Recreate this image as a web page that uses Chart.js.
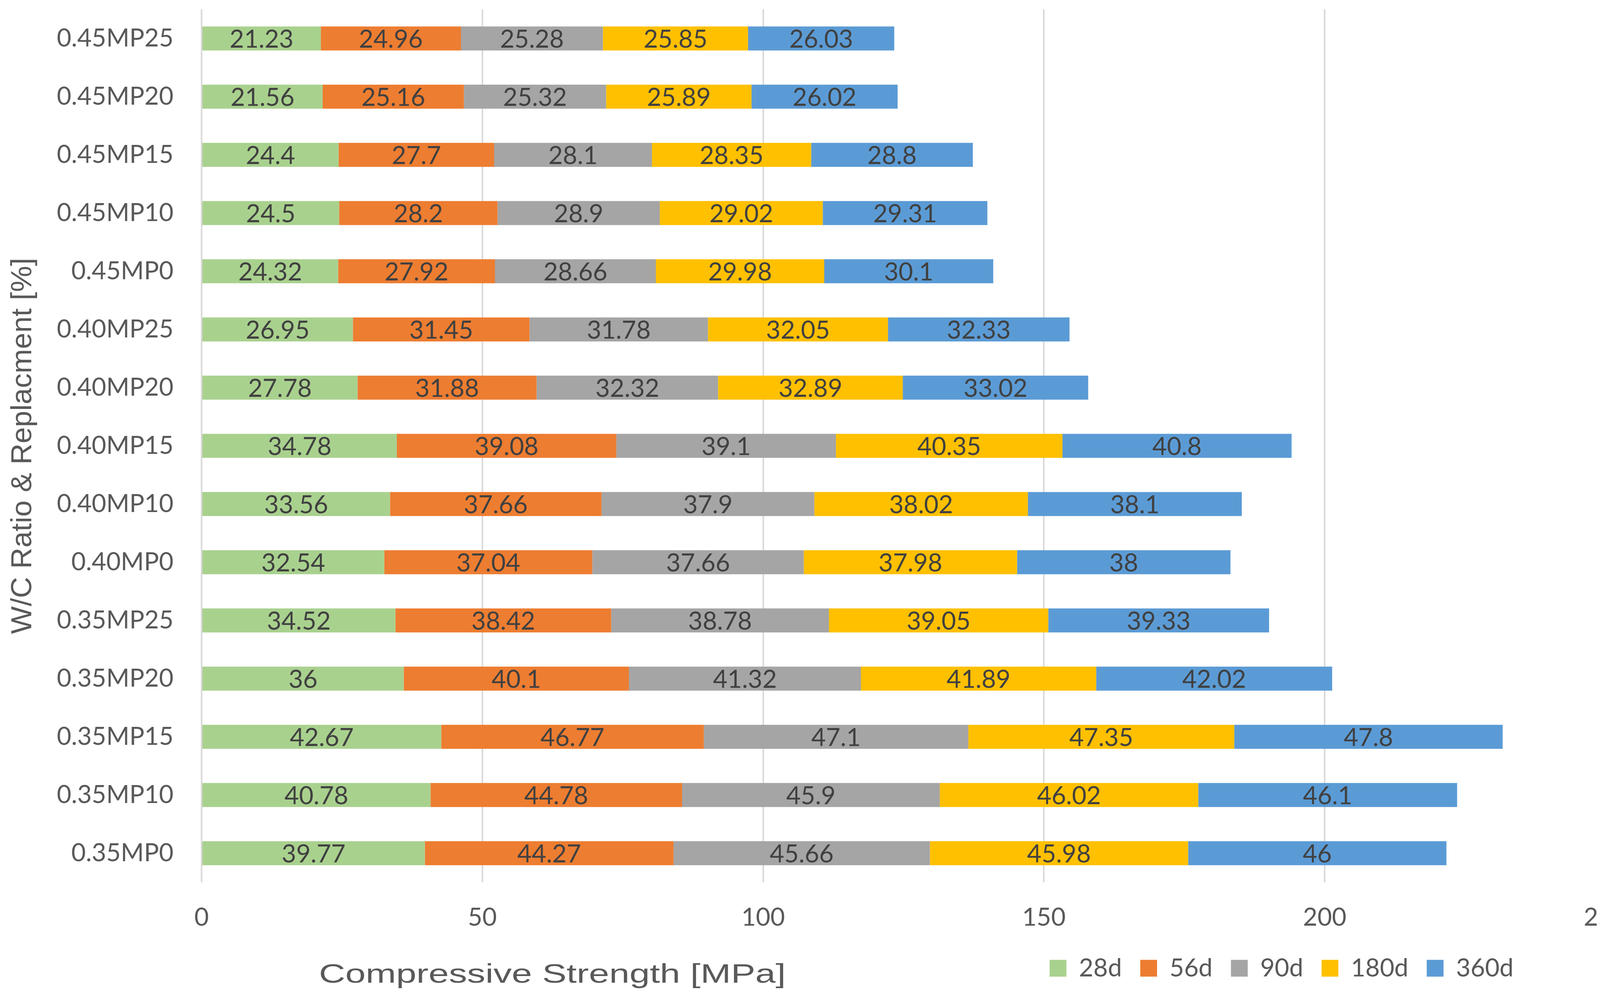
<!DOCTYPE html>
<html>
<head>
<meta charset="utf-8">
<script src="https://cdn.jsdelivr.net/npm/chart.js@4.4.0/dist/chart.umd.min.js"></script>
<style>
  html, body { margin: 0; padding: 0; background: #ffffff; overflow: hidden; }
  #wrap { width: 4193px; height: 2568px; }
  canvas { display: block; }
</style>
</head>
<body>
<div id="wrap"><canvas id="barChart" width="4193" height="2568"></canvas></div>
<script>
// Categorieen, van boven naar beneden zoals in de figuur
const categories = [
  '0.45MP25', '0.45MP20', '0.45MP15', '0.45MP10', '0.45MP0',
  '0.40MP25', '0.40MP20', '0.40MP15', '0.40MP10', '0.40MP0',
  '0.35MP25', '0.35MP20', '0.35MP15', '0.35MP10', '0.35MP0'
];

// Druksterkte per leeftijd (MPa)
const d28  = [21.23, 21.56, 24.4, 24.5, 24.32, 26.95, 27.78, 34.78, 33.56, 32.54, 34.52, 36, 42.67, 40.78, 39.77];
const d56  = [24.96, 25.16, 27.7, 28.2, 27.92, 31.45, 31.88, 39.08, 37.66, 37.04, 38.42, 40.1, 46.77, 44.78, 44.27];
const d90  = [25.28, 25.32, 28.1, 28.9, 28.66, 31.78, 32.32, 39.1, 37.9, 37.66, 38.78, 41.32, 47.1, 45.9, 45.66];
const d180 = [25.85, 25.89, 28.35, 29.02, 29.98, 32.05, 32.89, 40.35, 38.02, 37.98, 39.05, 41.89, 47.35, 46.02, 45.98];
const d360 = [26.03, 26.02, 28.8, 29.31, 30.1, 32.33, 33.02, 40.8, 38.1, 38, 39.33, 42.02, 47.8, 46.1, 46];

const seriesNames = ['28d', '56d', '90d', '180d', '360d'];
const xTicks = [0, 50, 100, 150, 200, 250];

// Kleuren per serie
const seriesColors = ['#A9D18E', '#ED7D31', '#A5A5A5', '#FFC000', '#5B9BD5'];

const labelFont = 'Lato';
const textGray = '#595959';

// Waarden midden in elke balk schrijven
const barLabels = {
  id: 'barLabels',
  afterDatasetsDraw(chart) {
    const ctx = chart.ctx;
    ctx.save();
    ctx.font = '64px ' + labelFont;
    ctx.fillStyle = '#404040';
    ctx.textAlign = 'center';
    ctx.textBaseline = 'middle';
    chart.data.datasets.forEach((ds, i) => {
      chart.getDatasetMeta(i).data.forEach((bar, j) => {
        const p = bar.getCenterPoint();
        ctx.fillText(String(ds.data[j]), p.x, p.y + 3);
      });
    });
    ctx.restore();
  }
};

// Legenda rechts onderaan, naast de astitel
const legendShift = {
  id: 'legendShift',
  afterLayout(chart) {
    const lg = chart.legend;
    lg.left = 2687 - lg.options.labels.padding;
    lg.right = chart.width;
  }
};

// Titel van de x-as (breed uitgerekt zoals in Excel)
const xTitle = {
  id: 'xTitle',
  afterDraw(chart) {
    const ctx = chart.ctx;
    const text = 'Compressive Strength [MPa]';
    ctx.save();
    ctx.font = '68px "Liberation Sans", Arial, sans-serif';
    ctx.fillStyle = textGray;
    ctx.textAlign = 'center';
    ctx.textBaseline = 'middle';
    const w = ctx.measureText(text).width;
    ctx.translate(1414, 2497);
    ctx.scale(1195 / w, 1);
    ctx.fillText(text, 0, 0);
    ctx.restore();
  }
};

const ctx = document.getElementById('barChart').getContext('2d');

const barChart = new Chart(ctx, {
  type: 'bar',
  data: {
    labels: categories,
    datasets: [d28, d56, d90, d180, d360].map((vals, i) => ({
      label: seriesNames[i],
      data: vals,
      backgroundColor: seriesColors[i],
      borderWidth: 0,
      barPercentage: 0.413,
      categoryPercentage: 1.0
    }))
  },
  options: {
    indexAxis: 'y',
    responsive: false,
    animation: false,
    devicePixelRatio: 1,
    layout: {
      padding: { left: 0, right: 83, top: 24, bottom: 47 }
    },
    plugins: {
      legend: {
        display: true,
        position: 'bottom',
        align: 'start',
        labels: {
          boxWidth: 43,
          boxHeight: 43,
          padding: 47,
          color: textGray,
          font: { family: labelFont, size: 64 }
        }
      },
      tooltip: { enabled: false }
    },
    scales: {
      x: {
        stacked: true,
        min: xTicks[0],
        max: xTicks[xTicks.length - 1],
        afterBuildTicks: (scale) => {
          scale.ticks = xTicks.map(v => ({ value: v }));
        },
        afterFit: (scale) => {
          scale.height = 141;
          scale.paddingLeft = 0;
          scale.paddingRight = 0;
        },
        grid: {
          color: '#D9D9D9',
          lineWidth: 4,
          drawTicks: false
        },
        border: { display: false },
        ticks: {
          padding: 52,
          color: textGray,
          font: { family: labelFont, size: 64 }
        }
      },
      y: {
        stacked: true,
        afterFit: (scale) => {
          scale.width = 516;
          scale.paddingTop = 0;
          scale.paddingBottom = 0;
        },
        grid: { display: false, drawTicks: false },
        border: { display: false },
        ticks: {
          padding: 72,
          color: textGray,
          font: { family: labelFont, size: 64 }
        },
        title: {
          display: true,
          text: 'W/C Ratio & Replacment [%]',
          color: textGray,
          padding: { top: 14, bottom: 0 },
          font: { family: '"Liberation Sans", Arial, sans-serif', size: 75 }
        }
      }
    }
  },
  plugins: [barLabels, legendShift, xTitle]
});
</script>
</body>
</html>
